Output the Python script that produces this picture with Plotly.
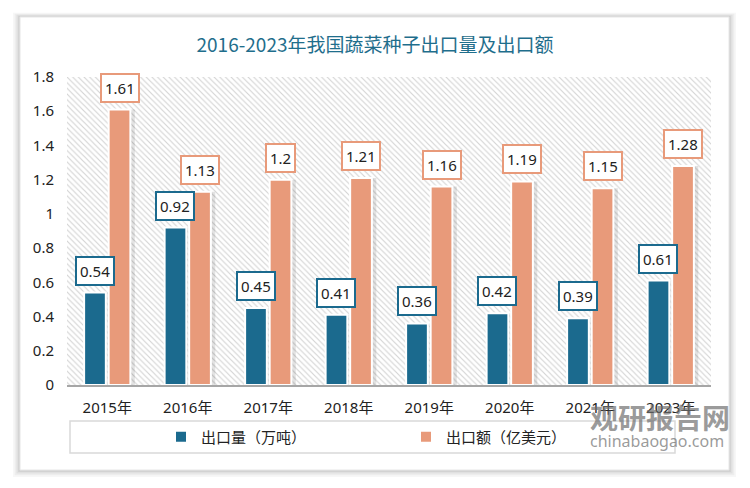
import plotly.graph_objects as go

years = ["2015年", "2016年", "2017年", "2018年", "2019年", "2020年", "2021年", "2023年"]
volume = [0.54, 0.92, 0.45, 0.41, 0.36, 0.42, 0.39, 0.61]      # 出口量（万吨）
value = [1.61, 1.13, 1.20, 1.21, 1.16, 1.19, 1.15, 1.28]       # 出口额（亿美元）
vol_labels = ["0.54", "0.92", "0.45", "0.41", "0.36", "0.42", "0.39", "0.61"]
val_labels = ["1.61", "1.13", "1.2", "1.21", "1.16", "1.19", "1.15", "1.28"]

BLUE = "#1b6a8e"
ORANGE = "#e89a7a"
FONT = "Noto Sans, Noto Sans CJK SC, sans-serif"

FW, FH = 750, 488
OFF = 8  # page body margin offset

# plot area in reference screen pixels
PX0, PX1, PY0, PY1 = 67, 711, 77, 385
L, R = PX0 - OFF, FW - (PX1 - OFF)
T, B = PY0 - OFF, FH - (PY1 - OFF)
W_PX, H_PX = PX1 - PX0, PY1 - PY0

def px_x(px):
    return (px - PX0) / W_PX

def px_y(py):
    return (PY1 - py) / H_PX

BW = 0.27          # bar width in category units
HALF = 0.1525      # bar centre offset from category centre
SH = 0.045         # shadow shift

fig = go.Figure()

# hatched plot background (on base axes x/y)
fig.add_trace(go.Bar(
    x=[0.5], y=[1], width=[1], xaxis="x", yaxis="y",
    marker=dict(color="white", line=dict(width=0),
                pattern=dict(shape="\\", fgcolor="#d4d4d4", bgcolor="white",
                             size=4, solidity=0.28, fillmode="replace")),
    showlegend=False, hoverinfo="skip",
))

# bar shadows
for vals, off in ((volume, -HALF), (value, HALF)):
    fig.add_trace(go.Bar(
        x=years, y=vals, xaxis="x2", yaxis="y2",
        width=BW + 0.02, offset=off - BW / 2 + SH - 0.01,
        marker=dict(color="rgba(0,0,0,0.11)", line=dict(width=0)),
        showlegend=False, hoverinfo="skip",
    ))

fig.add_trace(go.Bar(
    x=years, y=volume, name="出口量（万吨）", xaxis="x2", yaxis="y2",
    width=BW, offset=-HALF - BW / 2,
    marker=dict(color=BLUE, line=dict(color="white", width=2)),
))
fig.add_trace(go.Bar(
    x=years, y=value, name="出口额（亿美元）", xaxis="x2", yaxis="y2",
    width=BW, offset=HALF - BW / 2,
    marker=dict(color=ORANGE, line=dict(color="white", width=2)),
))

shift_px = HALF * W_PX / len(years)
annotations = []
for yr, v, t in zip(years, volume, vol_labels):
    annotations.append(dict(x=yr, y=v, xref="x2", yref="y2", text=t, showarrow=False,
                            xshift=-shift_px, yshift=7, yanchor="bottom", xanchor="center",
                            bgcolor="white", bordercolor=BLUE, borderwidth=2, borderpad=3,
                            font=dict(family=FONT, size=15, color="#222")))
for yr, v, t in zip(years, value, val_labels):
    annotations.append(dict(x=yr, y=v, xref="x2", yref="y2", text=t, showarrow=False,
                            xshift=shift_px, yshift=7, yanchor="bottom", xanchor="center",
                            bgcolor="white", bordercolor=ORANGE, borderwidth=2, borderpad=3,
                            font=dict(family=FONT, size=15, color="#222")))

# watermark
annotations.append(dict(x=px_x(660), y=px_y(417), xref="paper", yref="paper",
                        xanchor="center", yanchor="middle",
                        text="<b>观研报告网</b>", showarrow=False,
                        font=dict(family="Noto Sans CJK SC", size=28, color="rgba(110,110,110,0.7)")))
annotations.append(dict(x=px_x(657), y=px_y(441), xref="paper", yref="paper",
                        xanchor="center", yanchor="middle",
                        text="chinabaogao.com", showarrow=False,
                        font=dict(family="Noto Sans", size=16, color="rgba(110,110,110,0.7)")))

shapes = []
# card shadow
for i, a in enumerate([0.03, 0.04, 0.05, 0.06]):
    d = 7 - i * 1.7
    shapes.append(dict(type="rect", xref="paper", yref="paper", layer="below",
                       x0=px_x(20 - d), x1=px_x(729 + d), y0=px_y(470 + d), y1=px_y(17 - d * 0.6),
                       fillcolor=f"rgba(0,0,0,{a})", line=dict(width=0)))
shapes.append(dict(type="rect", xref="paper", yref="paper", layer="below",
                   x0=px_x(20), x1=px_x(729), y0=px_y(470), y1=px_y(17),
                   fillcolor="white", line=dict(color="#e6e6e6", width=1)))
# legend frame
shapes.append(dict(type="rect", xref="paper", yref="paper", layer="below",
                   x0=px_x(70), x1=px_x(675), y0=px_y(453), y1=px_y(421),
                   fillcolor="white", line=dict(color="#d9d9d9", width=1.5)))

fig.update_layout(
    width=FW, height=FH,
    margin=dict(l=L, r=R, t=T, b=B),
    paper_bgcolor="white", plot_bgcolor="rgba(0,0,0,0)",
    barmode="overlay",
    title=dict(text="2016-2023年我国蔬菜种子出口量及出口额", x=(375 - OFF) / FW, xanchor="center",
               y=1 - (42 - OFF + 3) / FH, yanchor="middle", yref="container",
               font=dict(family="Noto Sans CJK SC", size=19, color="#1f6e8c")),
    xaxis=dict(range=[0, 1], visible=False, fixedrange=True),
    yaxis=dict(range=[0, 1], visible=False, fixedrange=True),
    xaxis2=dict(overlaying="x", anchor="y2", side="bottom", type="category",
                showgrid=False, showline=True, linecolor="#a6a6a6", linewidth=2,
                ticks="", ticklabelstandoff=8,
                tickfont=dict(family=FONT, size=15, color="#222")),
    yaxis2=dict(overlaying="y", anchor="x2", side="left", range=[0, 1.8], dtick=0.2,
                showgrid=False, zeroline=False, showline=False, ticks="",
                ticklabelstandoff=12,
                tickfont=dict(family=FONT, size=15, color="#222")),
    legend=dict(orientation="h", x=px_x(161), y=px_y(437), xanchor="left", yanchor="middle",
                entrywidth=200, entrywidthmode="pixels", bgcolor="rgba(0,0,0,0)",
                font=dict(family=FONT, size=15, color="#222"), itemwidth=30),
    annotations=annotations,
    shapes=shapes,
)

fig.write_html("out.html")
